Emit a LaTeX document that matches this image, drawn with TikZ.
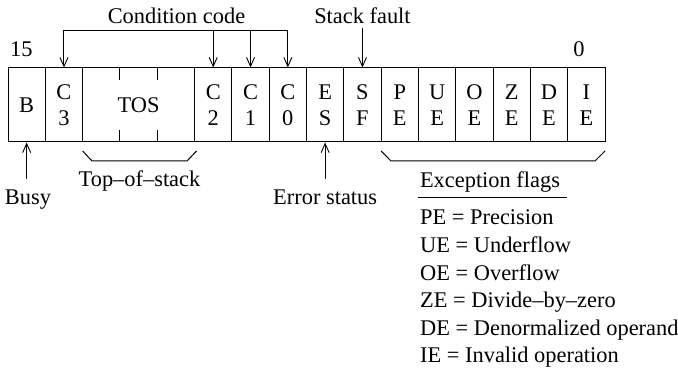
\documentclass[tikz,border=0pt]{standalone}
\usepackage{fontspec}
\setmainfont{Liberation Serif}
\usetikzlibrary{arrows.meta}
\begin{document}
\begin{tikzpicture}[x=1pt,y=-1pt,
  font=\fontsize{22.4}{26}\selectfont,
  cell/.style={draw, line width=1pt, minimum width=37.3125pt, minimum height=74pt, inner sep=0pt, align=center},
  lbl/.style={inner sep=0pt},
  ln/.style={line width=1pt},
  barb/.tip={Straight Barb[length=9pt,width=8pt,line width=0.9pt]},
  arr/.style={line width=1pt, -barb},
]
\useasboundingbox (0,0) rectangle (678,371);
% register cells
\node[cell] (B)  at (26.66,105) {B};
\node[cell] (C3) at (63.97,105) {C\\3};
\node[cell, minimum width=111.9375pt] (TOS) at (138.59,105) {TOS};
\node[cell] (C2) at (213.22,105) {C\\2};
\node[cell] (C1) at (250.53,105) {C\\1};
\node[cell] (C0) at (287.84,105) {C\\0};
\node[cell] (ES) at (325.16,105) {E\\S};
\node[cell] (SF) at (362.47,105) {S\\F};
\node[cell] (PE) at (399.78,105) {P\\E};
\node[cell] (UE) at (437.09,105) {U\\E};
\node[cell] (OE) at (474.41,105) {O\\E};
\node[cell] (ZE) at (511.72,105) {Z\\E};
\node[cell] (DE) at (549.03,105) {D\\E};
\node[cell] (IE) at (586.34,105) {I\\E};
% TOS ticks
\draw[ln] (119.94,68) -- (119.94,80);
\draw[ln] (157.25,68) -- (157.25,80);
\draw[ln] (119.94,142) -- (119.94,130);
\draw[ln] (157.25,142) -- (157.25,130);
% bit numbers
\node[lbl, anchor=base west] (b15) at (10,57) {15};
\node[lbl, anchor=base] (b0) at (579,57) {0};
% condition code
\node[lbl, anchor=base] (cc) at (176.5,24) {Condition code};
\coordinate (ccl) at (63.97,31);
\coordinate (ccr) at (287.84,31);
\coordinate (cc2) at (213.22,31);
\coordinate (cc1) at (250.53,31);
\draw[line width=1pt, barb-barb] (C3.north) -- (ccl) -- (ccr) -- (C0.north);
\draw[arr] (cc2) -- (C2.north);
\draw[arr] (cc1) -- (C1.north);
% stack fault
\node[lbl, anchor=base] (sf) at (362.47,24) {Stack fault};
\coordinate (sft) at (362.47,28);
\draw[arr] (sft) -- (SF.north);
% busy
\coordinate (busyb) at (26.66,179);
\draw[arr] (busyb) -- (B.south);
\node[lbl, anchor=base] (busy) at (28,205) {Busy};
% error status
\coordinate (esb) at (325.16,179);
\draw[arr] (esb) -- (ES.south);
\node[lbl, anchor=base] (es) at (325.16,205) {Error status};
% top-of-stack bracket
\draw[ln] (82.63,151) -- (92,161) -- (187,161) -- (196.56,151);
\node[lbl, anchor=base] (tos) at (139.5,187) {Top--of--stack};
% exception flags bracket
\draw[ln] (381.13,151) -- (391,161) -- (595,161) -- (605,151);
\node[lbl, anchor=base] (ef) at (490,188) {Exception flags};
\draw[ln] (418,198) -- (567,198);
% legend
\node[lbl, anchor=base west] (l1) at (420,225) {PE = Precision};
\node[lbl, anchor=base west] (l2) at (420,252.6) {UE = Underflow};
\node[lbl, anchor=base west] (l3) at (420,280.2) {OE = Overflow};
\node[lbl, anchor=base west] (l4) at (420,307.8) {ZE = Divide--by--zero};
\node[lbl, anchor=base west] (l5) at (420,335.4) {DE = Denormalized operand};
\node[lbl, anchor=base west] (l6) at (420,363) {IE = Invalid operation};
\end{tikzpicture}
\end{document}
